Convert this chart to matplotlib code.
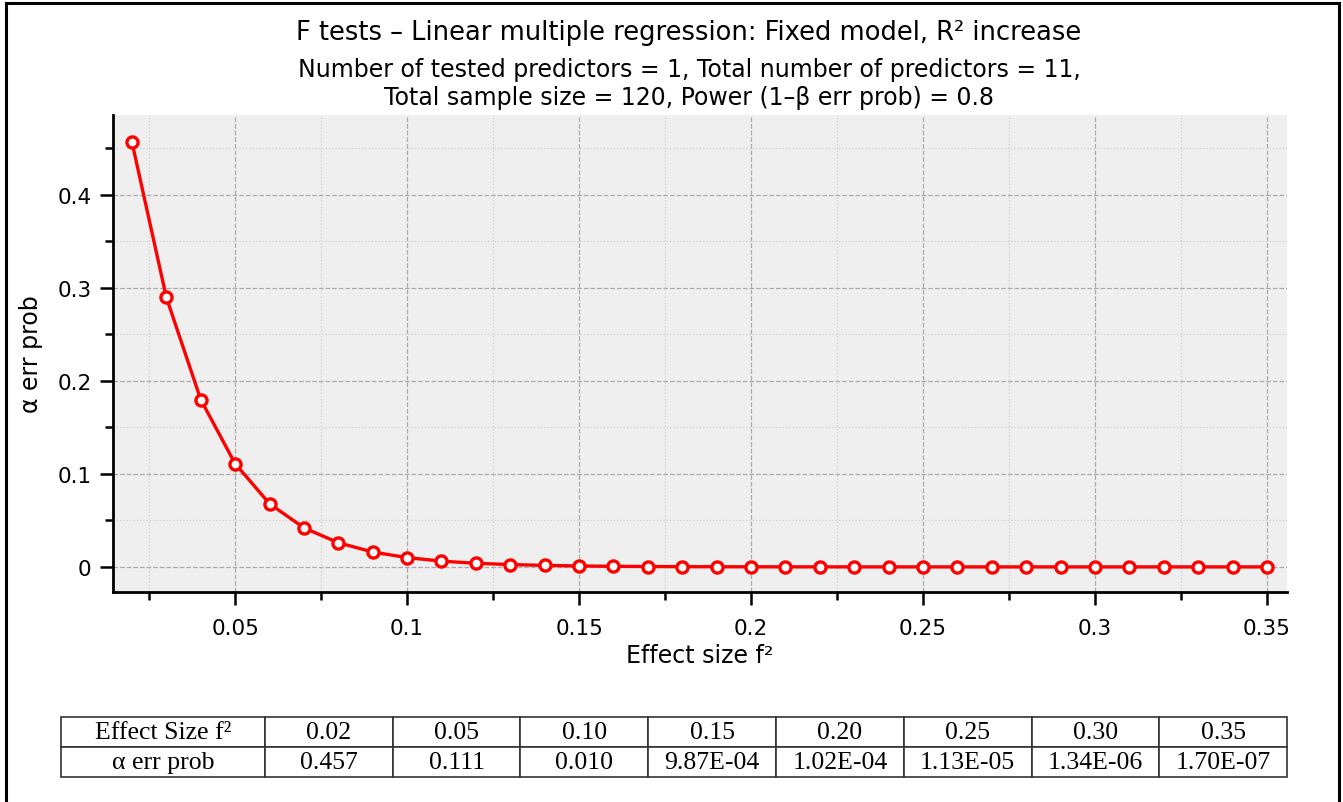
import matplotlib
matplotlib.use("Agg")
import matplotlib.pyplot as plt
from matplotlib.ticker import MultipleLocator, FuncFormatter
from matplotlib.lines import Line2D

# effect size f2 and alpha err prob
f2 = [0.02, 0.03, 0.04, 0.05, 0.06, 0.07, 0.08, 0.09, 0.10, 0.11, 0.12,
      0.13, 0.14, 0.15, 0.16, 0.17, 0.18, 0.19, 0.20, 0.21, 0.22, 0.23,
      0.24, 0.25, 0.26, 0.27, 0.28, 0.29, 0.30, 0.31, 0.32, 0.33, 0.34, 0.35]
alpha = [0.457, 0.290, 0.180, 0.111, 0.068, 0.042, 0.026, 0.016, 0.010,
         0.0062, 0.0039, 0.0025, 0.0016, 0.000987, 0.00063, 0.00040,
         0.00026, 0.00016, 0.000102, 0.000065, 0.000042, 0.000027,
         0.000017, 0.0000113, 0.0000072, 0.0000046, 0.0000030, 0.0000019,
         0.00000134, 0.00000085, 0.00000055, 0.00000035, 0.00000022,
         0.00000017]

table_f2 = ["0.02", "0.05", "0.10", "0.15", "0.20", "0.25", "0.30", "0.35"]
table_alpha = ["0.457", "0.111", "0.010", "9.87E-04", "1.02E-04",
               "1.13E-05", "1.34E-06", "1.70E-07"]

title = "F tests \u2013 Linear multiple regression: Fixed model, R\u00b2 increase"
subtitle = ("Number of tested predictors = 1, Total number of predictors = 11,\n"
            "Total sample size = 120, Power (1\u2013\u03b2 err prob) = 0.8")

W, H = 1343, 803
fig = plt.figure(figsize=(W / 100, H / 100), dpi=100)

# outer frame (bottom edge runs off the picture)
fig.add_artist(Line2D([6 / W, 6 / W], [0, 1 - 4 / H], color="black", lw=2.2))
fig.add_artist(Line2D([6 / W, 1339 / W], [1 - 4 / H, 1 - 4 / H], color="black", lw=2.2))
fig.add_artist(Line2D([1339 / W, 1339 / W], [0, 1 - 4 / H], color="black", lw=2.2))

ax = fig.add_axes([113 / W, 1 - 593 / H, (1287 - 113) / W, (593 - 116) / H])
ax.set_facecolor("#efefef")

ax.plot(f2, alpha, color="red", lw=2.4, marker="o", markersize=8,
        markerfacecolor="white", markeredgecolor="red", markeredgewidth=2.4,
        zorder=3, clip_on=False)

ax.set_xlim(0.0145, 0.3558)
ax.set_ylim(-0.027, 0.486)
ax.xaxis.set_major_locator(MultipleLocator(0.05))
ax.xaxis.set_minor_locator(MultipleLocator(0.025))
ax.yaxis.set_major_locator(MultipleLocator(0.1))
ax.yaxis.set_minor_locator(MultipleLocator(0.05))
ax.xaxis.set_major_formatter(FuncFormatter(lambda v, p: ("%g" % round(v, 3))))
ax.yaxis.set_major_formatter(FuncFormatter(lambda v, p: ("%g" % round(v, 3))))

for s in ["top", "right"]:
    ax.spines[s].set_visible(False)
for s in ["left", "bottom"]:
    ax.spines[s].set_linewidth(2)

ax.tick_params(which="major", length=9.5, width=1.8, labelsize=15.5)
ax.tick_params(axis="x", which="major", pad=9)
ax.tick_params(axis="y", which="major", pad=6)
ax.tick_params(which="minor", length=6, width=1.8)
ax.grid(which="major", color="#aaaaaa", ls="--", lw=0.9)
ax.grid(which="minor", color="#cfcfcf", ls=":", lw=0.9)
ax.set_axisbelow(True)

ax.set_xlabel("Effect size f\u00b2", fontsize=17, labelpad=4)
ax.set_ylabel("\u03b1 err prob", fontsize=17, labelpad=10)

fig.text(689 / W, 1 - 33 / H, title, ha="center", va="center", fontsize=18.5)
fig.text(689 / W, 1 - 84 / H, subtitle, ha="center", va="center",
         fontsize=17, linespacing=1.2)

# summary table
tab_ax = fig.add_axes([61 / W, 1 - 778 / H, (1287 - 61) / W, 60 / H])
tab_ax.axis("off")
first_w = 204 / (1287 - 61)
other_w = (1 - first_w) / len(table_f2)
tbl = tab_ax.table(cellText=[["Effect Size f\u00b2"] + table_f2,
                             ["\u03b1 err prob"] + table_alpha],
                   colWidths=[first_w] + [other_w] * len(table_f2),
                   cellLoc="center", bbox=[0, 0, 1, 1])
tbl.auto_set_font_size(False)
tbl.set_fontsize(18.5)
for (r, c), cell in tbl.get_celld().items():
    cell.set_linewidth(1.2)
    cell.set_edgecolor("#333333")
    cell.get_text().set_fontfamily("Liberation Serif")

fig.savefig("out.png", dpi=100)
